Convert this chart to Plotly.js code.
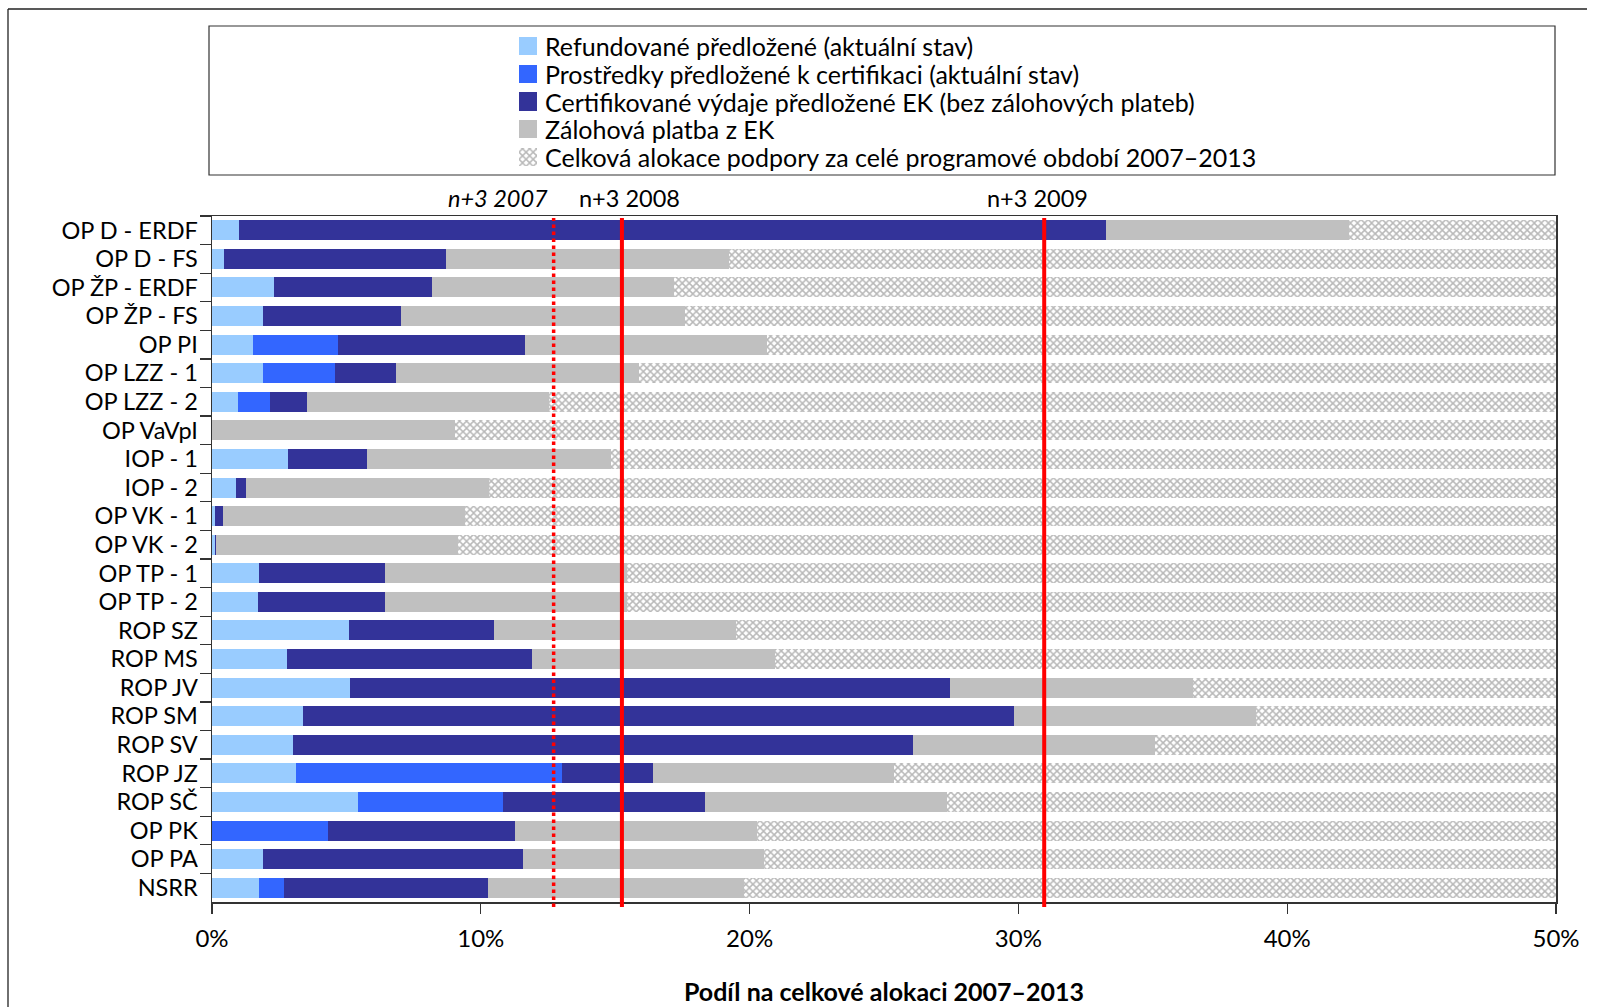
<!DOCTYPE html>
<html>
<head>
<meta charset="utf-8">
<script src="https://cdn.plot.ly/plotly-3.0.1.min.js"></script>
<style>html,body{margin:0;padding:0;background:#fff;}#chart{width:1601px;height:1007px;}</style>
</head>
<body>
<div id="chart"></div>
<script>
// Categories (top to bottom)
const categories = ["OP D - ERDF","OP D - FS","OP ŽP - ERDF","OP ŽP - FS","OP PI","OP LZZ - 1","OP LZZ - 2","OP VaVpI","IOP - 1","IOP - 2","OP VK - 1","OP VK - 2","OP TP - 1","OP TP - 2","ROP SZ","ROP MS","ROP JV","ROP SM","ROP SV","ROP JZ","ROP SČ","OP PK","OP PA","NSRR"];

// Segment values, % of total allocation 2007–2013
const refundovane   = [1.01,0.46,2.32,1.88,1.54,1.90,0.95,0.00,2.83,0.91,0.10,0.13,1.73,1.71,5.08,2.78,5.15,3.37,3.02,3.14,5.42,0.00,1.88,1.73];
const kCertifikaci  = [0.00,0.00,0.00,0.00,3.16,2.68,1.22,0.00,0.00,0.00,0.00,0.00,0.00,0.00,0.00,0.00,0.00,0.00,0.00,9.88,5.40,4.33,0.00,0.93];
const certifikovane = [32.25,8.25,5.85,5.14,6.93,2.28,1.35,0.00,2.95,0.36,0.32,0.02,4.71,4.73,5.40,9.12,22.30,26.46,23.05,3.37,7.53,6.94,9.68,7.61];
const zalohova      = [9.03,10.52,9.02,10.57,9.01,9.01,9.03,9.03,9.05,9.02,9.01,9.01,9.00,9.00,9.03,9.03,9.04,9.02,9.01,9.00,8.99,9.01,8.98,9.53];
const celkovaAlokace = categories.map(() => 100); // total allocation = 100 %

// Deadline lines (n+3 rule), % of allocation
const deadlineLabels = ["n+3 2007","n+3 2008","n+3 2009"];
const deadlineValues = [12.71, 15.25, 30.96];

const seriesNames = [
  "Refundované předložené (aktuální stav)",
  "Prostředky předložené k certifikaci (aktuální stav)",
  "Certifikované výdaje předložené EK (bez zálohových plateb)",
  "Zálohová platba z EK",
  "Celková alokace podpory za celé programové období 2007–2013"
];
const seriesColors = ["#99CCFF","#3366FF","#333399","#C0C0C0","#FFFFFF"];

const remainder = celkovaAlokace.map((t,i) => t - refundovane[i] - kCertifikaci[i] - certifikovane[i] - zalohova[i]);

const FONT = "Lato, 'Open Sans', sans-serif";
const HATCH = {shape: "x", fgcolor: "#B8B8B8", bgcolor: "#FFFFFF", size: 5, solidity: 0.5};

// geometry (pixels): plot area l=212, r=1556, top=216, bottom=902
const W = 1601, H = 1007;
const PL = 212, PR = 1556, PT = 216, PB = 902;
const px = v => (v - PL) / (PR - PL);
const py = v => (PB - v) / PB;   // paper spans y = 0 .. 902 px

function barTrace(vals, i, extra) {
  return {
    type: "bar", orientation: "h", y: categories, x: vals, name: seriesNames[i],
    xaxis: "x", yaxis: "y", showlegend: false,
    marker: Object.assign({color: seriesColors[i], line: {width: 0}}, extra || {}),
    hoverinfo: "x+y+name"
  };
}

const data = [
  barTrace(refundovane, 0),
  barTrace(kCertifikaci, 1),
  barTrace(certifikovane, 2),
  barTrace(zalohova, 3),
  barTrace(remainder, 4, {pattern: HATCH}),
  // legend swatches drawn on a small hidden axis inside the legend box
  {
    type: "bar", orientation: "h", xaxis: "x2", yaxis: "y2", showlegend: false,
    y: seriesNames.slice(0, 4), x: [1, 1, 1, 1], width: 0.65,
    marker: {color: seriesColors.slice(0, 4), line: {width: 0}},
    hoverinfo: "y"
  },
  {
    type: "bar", orientation: "h", xaxis: "x2", yaxis: "y2", showlegend: false,
    y: seriesNames.slice(4), x: [1], width: 0.65,
    marker: {color: "#FFFFFF", line: {width: 0}, pattern: HATCH},
    hoverinfo: "y"
  }
];

const shapes = [];
deadlineValues.forEach((v, i) => {
  shapes.push({type: "line", xref: "x", yref: "paper", x0: v, x1: v, y0: py(907), y1: py(218),
    line: {color: "#FF0000", width: i === 0 ? 3.5 : 4, dash: i === 0 ? "dot" : "solid"}});
});
// legend frame
shapes.push({type: "rect", xref: "paper", yref: "paper", x0: px(209), x1: px(1555), y0: py(175), y1: py(26),
  line: {color: "#333333", width: 1.2}, fillcolor: "rgba(0,0,0,0)"});
// outer chart frame (left and top edges)
shapes.push({type: "line", xref: "paper", yref: "paper", x0: px(8), x1: px(8), y0: py(1010), y1: py(9), line: {color: "#222", width: 1.3}});
shapes.push({type: "line", xref: "paper", yref: "paper", x0: px(8), x1: px(1587), y0: py(9), y1: py(9), line: {color: "#222", width: 1.3}});

const annotations = [
  {x: deadlineValues[0], y: py(198), xref: "x", yref: "paper", text: "<i>" + deadlineLabels[0] + "</i>", showarrow: false, xanchor: "right", yanchor: "middle", xshift: -4, font: {family: FONT, size: 23.5, color: "#000"}},
  {x: deadlineValues[1], y: py(198), xref: "x", yref: "paper", text: deadlineLabels[1], showarrow: false, xanchor: "center", yanchor: "middle", xshift: 8, font: {family: FONT, size: 23.5, color: "#000"}},
  {x: deadlineValues[2], y: py(198), xref: "x", yref: "paper", text: deadlineLabels[2], showarrow: false, xanchor: "center", yanchor: "middle", xshift: -7, font: {family: FONT, size: 23.5, color: "#000"}}
];
// legend texts
const legendTop = 32, legendRow = 27.8;
seriesNames.forEach((n, i) => {
  annotations.push({x: px(543), y: py(legendTop + legendRow * (i + 0.5)), xref: "paper", yref: "paper",
    text: n, showarrow: false, xanchor: "left", yanchor: "middle", font: {family: FONT, size: 25, color: "#000"}});
});

const layout = {
  width: W, height: H,
  margin: {l: PL, r: W - PR, t: 0, b: H - PB, pad: 0},
  paper_bgcolor: "#fff", plot_bgcolor: "#fff",
  barmode: "stack", bargap: 0.3,
  font: {family: FONT, size: 22, color: "#000"},
  showlegend: false,
  xaxis: {
    range: [0, 50], tickvals: [0,10,20,30,40,50], ticktext: ["0%","10%","20%","30%","40%","50%"],
    showgrid: false, zeroline: false, showline: true, linecolor: "#333", linewidth: 1.5, mirror: true,
    ticks: "outside", ticklen: 10, tickcolor: "#333", tickwidth: 1.2, ticklabelstandoff: 5,
    tickfont: {family: FONT, size: 24, color: "#000"},
    title: {text: "<b>Podíl na celkové alokaci 2007–2013</b>", standoff: 32, font: {family: FONT, size: 25, color: "#000"}},
    anchor: "y", fixedrange: true
  },
  yaxis: {
    domain: [0, (PB - PT) / PB],
    type: "category", autorange: "reversed", showgrid: false, zeroline: false,
    showline: true, linecolor: "#333", linewidth: 1.5, mirror: true,
    ticks: "outside", tickson: "boundaries", ticklen: 11, tickcolor: "#333", tickwidth: 1.2, ticklabelstandoff: 8,
    tickfont: {family: FONT, size: 23.5, color: "#000"}, anchor: "x", fixedrange: true
  },
  xaxis2: {domain: [px(519), px(537)], range: [0, 1], visible: false, anchor: "y2", fixedrange: true},
  yaxis2: {domain: [py(legendTop + legendRow * 5), py(legendTop)], type: "category", autorange: "reversed",
    categoryorder: "array", categoryarray: seriesNames, range: [4.5, -0.5],
    visible: false, anchor: "x2", fixedrange: true},
  shapes: shapes,
  annotations: annotations
};

Plotly.newPlot("chart", data, layout, {displayModeBar: false, staticPlot: true});
</script>
</body>
</html>
